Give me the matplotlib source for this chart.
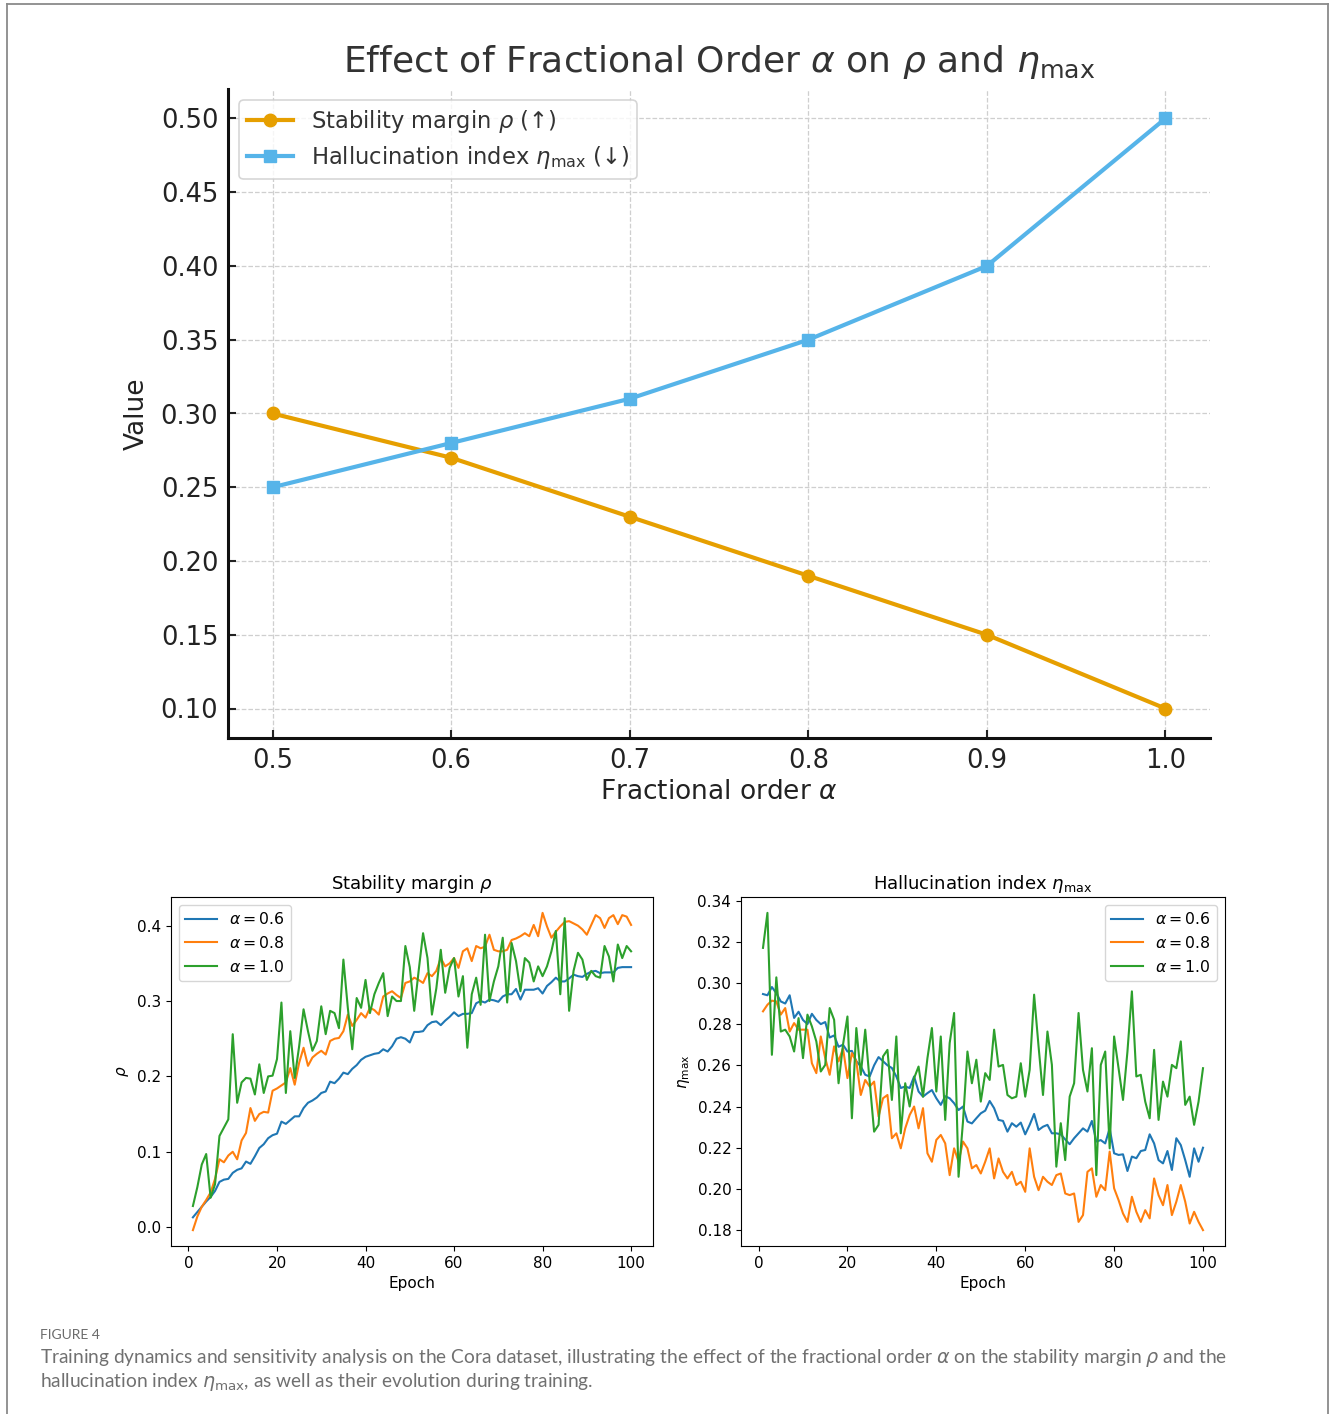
import matplotlib
matplotlib.use("Agg")
import matplotlib.pyplot as plt
from matplotlib.lines import Line2D
import numpy as np

W, H = 1332, 1414

# ---- sensitivity sweep over the fractional order ----
alpha_vals = [0.5, 0.6, 0.7, 0.8, 0.9, 1.0]
rho_vals = [0.30, 0.27, 0.23, 0.19, 0.15, 0.10]
eta_vals = [0.25, 0.28, 0.31, 0.35, 0.40, 0.50]

# ---- training curves (epochs 1..100) ----
epochs = list(range(1, 101))

rho_a06 = [0.013, 0.020, 0.027, 0.034, 0.040, 0.048, 0.060, 0.063, 0.064, 0.072,
           0.076, 0.078, 0.087, 0.084, 0.094, 0.105, 0.110, 0.118, 0.122, 0.124,
           0.140, 0.137, 0.142, 0.147, 0.147, 0.158, 0.165, 0.168, 0.172, 0.178,
           0.180, 0.193, 0.191, 0.197, 0.205, 0.203, 0.210, 0.215, 0.222, 0.226,
           0.228, 0.230, 0.231, 0.236, 0.233, 0.240, 0.250, 0.252, 0.250, 0.245,
           0.259, 0.259, 0.260, 0.268, 0.272, 0.273, 0.268, 0.274, 0.279, 0.285,
           0.280, 0.283, 0.283, 0.284, 0.297, 0.300, 0.298, 0.302, 0.301, 0.299,
           0.306, 0.309, 0.309, 0.316, 0.302, 0.315, 0.315, 0.315, 0.317, 0.310,
           0.320, 0.325, 0.331, 0.326, 0.326, 0.330, 0.335, 0.333, 0.332, 0.336,
           0.339, 0.340, 0.337, 0.338, 0.338, 0.338, 0.344, 0.345, 0.345, 0.345]

rho_a08 = [-0.004, 0.014, 0.027, 0.036, 0.046, 0.064, 0.090, 0.086, 0.095, 0.100,
           0.090, 0.115, 0.125, 0.158, 0.141, 0.150, 0.153, 0.152, 0.181, 0.184,
           0.188, 0.192, 0.211, 0.189, 0.218, 0.238, 0.214, 0.225, 0.230, 0.234,
           0.229, 0.247, 0.250, 0.251, 0.260, 0.282, 0.267, 0.275, 0.284, 0.278,
           0.291, 0.288, 0.282, 0.306, 0.310, 0.313, 0.308, 0.304, 0.324, 0.326,
           0.331, 0.328, 0.324, 0.337, 0.333, 0.340, 0.357, 0.346, 0.350, 0.357,
           0.344, 0.366, 0.370, 0.353, 0.373, 0.370, 0.372, 0.388, 0.368, 0.366,
           0.366, 0.368, 0.381, 0.383, 0.386, 0.390, 0.386, 0.401, 0.386, 0.417,
           0.399, 0.384, 0.392, 0.399, 0.405, 0.406, 0.403, 0.400, 0.395, 0.388,
           0.401, 0.414, 0.410, 0.397, 0.410, 0.414, 0.402, 0.414, 0.412, 0.401]

rho_a10 = [0.028, 0.053, 0.083, 0.097, 0.039, 0.057, 0.121, 0.132, 0.143, 0.256,
           0.165, 0.192, 0.198, 0.197, 0.176, 0.216, 0.178, 0.200, 0.201, 0.223,
           0.298, 0.178, 0.260, 0.198, 0.240, 0.289, 0.260, 0.234, 0.247, 0.293,
           0.256, 0.287, 0.284, 0.264, 0.355, 0.291, 0.236, 0.304, 0.291, 0.328,
           0.284, 0.309, 0.324, 0.337, 0.280, 0.306, 0.300, 0.300, 0.373, 0.345,
           0.287, 0.340, 0.390, 0.357, 0.282, 0.317, 0.368, 0.311, 0.344, 0.357,
           0.306, 0.333, 0.238, 0.309, 0.331, 0.295, 0.388, 0.300, 0.326, 0.346,
           0.384, 0.298, 0.377, 0.353, 0.313, 0.357, 0.351, 0.326, 0.346, 0.333,
           0.346, 0.366, 0.393, 0.309, 0.410, 0.287, 0.340, 0.364, 0.355, 0.328,
           0.340, 0.333, 0.331, 0.373, 0.359, 0.326, 0.375, 0.357, 0.373, 0.366]

eta_a06 = [0.2946, 0.2940, 0.2980, 0.2950, 0.2910, 0.2900, 0.2940, 0.2830, 0.2860, 0.2820,
           0.2800, 0.2850, 0.2820, 0.2800, 0.2810, 0.2735, 0.2745, 0.2690, 0.2700, 0.2667,
           0.2670, 0.2620, 0.2595, 0.2554, 0.2546, 0.2600, 0.2640, 0.2620, 0.2600, 0.2587,
           0.2546, 0.2490, 0.2497, 0.2490, 0.2546, 0.2473, 0.2448, 0.2465, 0.2480, 0.2440,
           0.2408, 0.2450, 0.2440, 0.2416, 0.2383, 0.2400, 0.2327, 0.2318, 0.2343, 0.2367,
           0.2380, 0.2427, 0.2392, 0.2335, 0.2330, 0.2278, 0.2319, 0.2302, 0.2322, 0.2265,
           0.2311, 0.2364, 0.2286, 0.2302, 0.2311, 0.2270, 0.2270, 0.2265, 0.2240, 0.2217,
           0.2246, 0.2270, 0.2294, 0.2278, 0.2330, 0.2230, 0.2237, 0.2221, 0.2294, 0.2173,
           0.2165, 0.2168, 0.2087, 0.2157, 0.2149, 0.2184, 0.2189, 0.2265, 0.2221, 0.2140,
           0.2124, 0.2184, 0.2092, 0.2246, 0.2213, 0.2140, 0.2059, 0.2197, 0.2132, 0.2200]

eta_a08 = [0.2862, 0.2894, 0.2914, 0.2910, 0.2846, 0.2878, 0.2764, 0.2805, 0.2773, 0.2773,
           0.2773, 0.2610, 0.2562, 0.2740, 0.2635, 0.2554, 0.2692, 0.2619, 0.2683, 0.2538,
           0.2659, 0.2619, 0.2456, 0.2529, 0.2497, 0.2521, 0.2351, 0.2440, 0.2456, 0.2246,
           0.2270, 0.2197, 0.2294, 0.2359, 0.2400, 0.2294, 0.2392, 0.2173, 0.2132, 0.2238,
           0.2262, 0.2221, 0.2067, 0.2197, 0.2132, 0.2230, 0.2197, 0.2100, 0.2116, 0.2075,
           0.2132, 0.2197, 0.2051, 0.2148, 0.2083, 0.2051, 0.2083, 0.2019, 0.2035, 0.1986,
           0.2197, 0.2059, 0.1994, 0.2059, 0.2035, 0.2019, 0.2067, 0.2075, 0.1978, 0.1970,
           0.1978, 0.1840, 0.1873, 0.2083, 0.2100, 0.1962, 0.2019, 0.1994, 0.2181, 0.2003,
           0.1946, 0.1881, 0.1840, 0.1962, 0.1889, 0.1840, 0.1897, 0.1857, 0.2051, 0.1970,
           0.1921, 0.2019, 0.1873, 0.1938, 0.2019, 0.1938, 0.1832, 0.1889, 0.1840, 0.1800]

eta_a10 = [0.3170, 0.3340, 0.2651, 0.3027, 0.2764, 0.2773, 0.2740, 0.2667, 0.2829, 0.2635,
           0.2846, 0.2789, 0.2716, 0.2570, 0.2602, 0.2878, 0.2821, 0.2513, 0.2700, 0.2837,
           0.2343, 0.2781, 0.2554, 0.2773, 0.2521, 0.2278, 0.2311, 0.2643, 0.2675, 0.2432,
           0.2740, 0.2270, 0.2513, 0.2400, 0.2538, 0.2594, 0.2448, 0.2635, 0.2781, 0.2473,
           0.2740, 0.2335, 0.2708, 0.2854, 0.2059, 0.2327, 0.2667, 0.2513, 0.2627, 0.2424,
           0.2562, 0.2529, 0.2773, 0.2594, 0.2602, 0.2456, 0.2440, 0.2448, 0.2610, 0.2448,
           0.2578, 0.2943, 0.2692, 0.2456, 0.2764, 0.2602, 0.2108, 0.2319, 0.2140, 0.2448,
           0.2513, 0.2854, 0.2578, 0.2473, 0.2683, 0.2067, 0.2602, 0.2667, 0.2197, 0.2740,
           0.2586, 0.2432, 0.2667, 0.2959, 0.2546, 0.2554, 0.2424, 0.2343, 0.2675, 0.2335,
           0.2521, 0.2448, 0.2602, 0.2586, 0.2716, 0.2408, 0.2448, 0.2311, 0.2424, 0.2586]

curve_labels = [r"$\alpha = 0.6$", r"$\alpha = 0.8$", r"$\alpha = 1.0$"]
curve_colors = ["#1f77b4", "#ff7f0e", "#2ca02c"]

ORANGE = "#E69F00"
SKY = "#56B4E9"

fig = plt.figure(figsize=(W / 100, H / 100), dpi=100)


def px_axes(x0, y0, x1, y1):
    return fig.add_axes([x0 / W, 1 - y1 / H, (x1 - x0) / W, (y1 - y0) / H])


# ---------------- top panel ----------------
ax = px_axes(228, 89, 1210, 738)
ax.plot(alpha_vals, rho_vals, color=ORANGE, lw=3.0, marker="o", ms=9,
        label=r"Stability margin $\rho$ (↑)", zorder=3)
ax.plot(alpha_vals, eta_vals, color=SKY, lw=3.0, marker="s", ms=9,
        label=r"Hallucination index $\eta_{\mathrm{max}}$ (↓)", zorder=3)
ax.set_xticks(alpha_vals)
ax.set_xticklabels([f"{a:.1f}" for a in alpha_vals])
yt = [0.10, 0.15, 0.20, 0.25, 0.30, 0.35, 0.40, 0.45, 0.50]
ax.set_yticks(yt)
ax.set_yticklabels([f"{v:.2f}" for v in yt])
ax.tick_params(direction="in", length=6, width=1.5, labelsize=18.5, colors="#222222",
               labelcolor="#222222", pad=7)
ax.grid(True, linestyle="--", color="#cfcfcf", linewidth=0.9)
ax.set_axisbelow(True)
for side in ("top", "right"):
    ax.spines[side].set_visible(False)
for side in ("left", "bottom"):
    ax.spines[side].set_linewidth(2.2)
    ax.spines[side].set_color("#111111")
ax.set_title(r"Effect of Fractional Order $\alpha$ on $\rho$ and $\eta_{\mathrm{max}}$",
             fontsize=26, color="#333333", pad=12)
ax.set_xlabel(r"Fractional order $\alpha$", fontsize=19, color="#222222", labelpad=4)
ax.set_ylabel("Value", fontsize=19, color="#222222", labelpad=8)
leg = ax.legend(loc="upper left", fontsize=16.3, frameon=True, borderpad=0.35,
                handlelength=2.0, handletextpad=0.8, labelspacing=0.4)
leg.get_frame().set_edgecolor("#cccccc")
leg.get_frame().set_linewidth(1.2)
for t in leg.get_texts():
    t.set_color("#333333")

# ---------------- training curves ----------------
axL = px_axes(171, 897, 653, 1246)
for ys, lab, c in zip([rho_a06, rho_a08, rho_a10], curve_labels, curve_colors):
    axL.plot(epochs, ys, color=c, lw=1.5, label=lab)
axL.set_title(r"Stability margin $\rho$", fontsize=13)
axL.set_xlabel("Epoch", fontsize=11)
axL.set_ylabel(r"$\rho$", fontsize=11)
axL.set_xticks([0, 20, 40, 60, 80, 100])
axL.set_yticks([0.0, 0.1, 0.2, 0.3, 0.4])
axL.tick_params(labelsize=11)
axL.legend(loc="upper left", fontsize=11.3)

axR = px_axes(741, 897, 1225, 1246)
for ys, lab, c in zip([eta_a06, eta_a08, eta_a10], curve_labels, curve_colors):
    axR.plot(epochs, ys, color=c, lw=1.5, label=lab)
axR.set_title(r"Hallucination index $\eta_{\mathrm{max}}$", fontsize=13)
axR.set_xlabel("Epoch", fontsize=11)
axR.set_ylabel(r"$\eta_{\mathrm{max}}$", fontsize=11)
axR.set_xticks([0, 20, 40, 60, 80, 100])
axR.set_yticks([0.18, 0.20, 0.22, 0.24, 0.26, 0.28, 0.30, 0.32, 0.34])
axR.tick_params(labelsize=11)
axR.legend(loc="upper right", fontsize=11.3)

# ---------------- page frame ----------------
fc = "#8a8a8a"
fig.add_artist(Line2D([7 / W, 7 / W], [0, 1 - 4 / H], transform=fig.transFigure, color=fc, lw=1.3))
fig.add_artist(Line2D([7 / W, 1328 / W], [1 - 4 / H, 1 - 4 / H], transform=fig.transFigure, color=fc, lw=1.3))
fig.add_artist(Line2D([1328 / W, 1328 / W], [0, 1 - 4 / H], transform=fig.transFigure, color=fc, lw=1.3))

# ---------------- caption ----------------
fig.text(40 / W, 1 - 1335 / H, "FIGURE 4", fontsize=10, color="#6b6b6b",
         family="Lato", va="center", ha="left")
fig.text(40 / W, 1 - 1358 / H,
         r"Training dynamics and sensitivity analysis on the Cora dataset, illustrating the effect "
         r"of the fractional order $\alpha$ on the stability margin $\rho$ and the",
         fontsize=13.8, color="#707070", family="Lato", va="center", ha="left")
fig.text(40 / W, 1 - 1382 / H,
         r"hallucination index $\eta_{\mathrm{max}}$, as well as their evolution during training.",
         fontsize=13.8, color="#707070", family="Lato", va="center", ha="left")

fig.savefig("out.png", dpi=100)
